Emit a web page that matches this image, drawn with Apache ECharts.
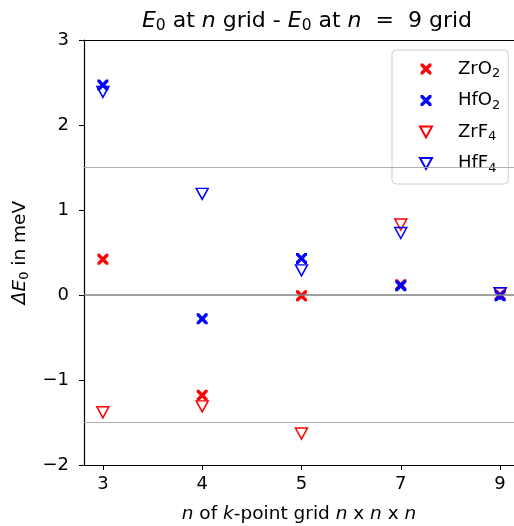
<!DOCTYPE html>
<html><head><meta charset="utf-8">
<script src="https://cdn.jsdelivr.net/npm/echarts@6/dist/echarts.min.js"></script>
<style>html,body{margin:0;padding:0;background:#fff}#c{width:514px;height:526px}</style>
</head><body><div id="c"></div>
<script>
const xLabels = ['3', '4', '5', '7', '9'];
const yTicks = [-2, -1, 0, 1, 2, 3];
const refLines = [1.5, 0, -1.5];
const ZrO2 = [0.42, -1.18, -0.01, 0.12, 0.00];
const HfO2 = [2.47, -0.28, 0.43, 0.11, -0.01];
const ZrF4 = [-1.38, -1.31, -1.63, 0.83, 0.02];
const HfF4 = [2.39, 1.19, 0.29, 0.73, 0.02];

const XPATH = 'path://M0,0 L2.2,0 L5,2.8 L7.8,0 L10,0 L10,2.2 L7.2,5 L10,7.8 L10,10 L7.8,10 L5,7.2 L2.2,10 L0,10 L0,7.8 L2.8,5 L0,2.2 Z';
const TRI = 'path://M0,0 L12,0 L6,11 Z';
const toPts = arr => arr.map((v, i) => [i, v]);
const fmt = v => v < 0 ? '\u2212' + Math.abs(v) : String(v);
const font = 'DejaVu Sans';
const FS = 18;
const NFS = 18.5;
const XMIN = -0.19, XMAX = 4.14;

function crossSeries(name, color, vals) {
  return { name, type: 'scatter', data: toPts(vals), symbol: XPATH, symbolSize: 11,
    itemStyle: { color: color, borderWidth: 0, opacity: 1 }, z: 3 };
}
function triSeries(name, color, vals) {
  return { name, type: 'scatter', data: toPts(vals), symbol: TRI, symbolSize: [12, 11],
    itemStyle: { color: 'rgba(255,255,255,0)', borderColor: color, borderWidth: 1.5, opacity: 1 }, z: 3 };
}

const chart = echarts.init(document.getElementById('c'));
chart.setOption({
  animation: false,
  backgroundColor: '#fff',
  textStyle: { fontFamily: font },
  title: {
    text: '{i|E}{s|0}{t| at }{i|n}{t| grid - }{i|E}{s|0}{t| at }{i|n}{t|  =  9 grid}',
    left: 302, textAlign: 'center', top: 3,
    textStyle: { fontWeight: 'normal', rich: {
      t: { fontFamily: font, fontSize: 22, color: '#000', fontWeight: 'normal' },
      i: { fontFamily: font, fontSize: 22, fontStyle: 'italic', color: '#000', fontWeight: 'normal' },
      s: { fontFamily: font, fontSize: 15.5, color: '#000', fontWeight: 'normal', verticalAlign: 'bottom', padding: [10, 0, 0, 0] }
    } }
  },
  grid: { left: 84, right: 0, top: 40, bottom: 61, containLabel: false, outerBoundsMode: 'none' },
  legend: {
    orient: 'vertical', left: 392, top: 50,
    padding: [10, 8, 9, 27], itemGap: 11, itemWidth: 12, itemHeight: 11,
    backgroundColor: '#fff', borderColor: '#d0d0d0', borderWidth: 1, borderRadius: 4,
    data: [{ name: 'ZrO2' }, { name: 'HfO2' }, { name: 'ZrF4', icon: TRI }, { name: 'HfF4', icon: TRI }],
    formatter: n => '{t|' + n.slice(0, -1) + '}{s|' + n.slice(-1) + '}',
    textStyle: { padding: [0, 0, 0, 21], rich: {
      t: { fontFamily: font, fontSize: FS, color: '#000' },
      s: { fontFamily: font, fontSize: 13, color: '#000', verticalAlign: 'bottom', padding: [10, 0, 0, 0] }
    } }
  },
  xAxis: [{
    type: 'value', min: XMIN, max: XMAX,
    name: '{i|n}{t| of }{i|k}{t|-point grid }{i|n}{t| x }{i|n}{t| x }{i|n}',
    nameLocation: 'middle', nameGap: 40,
    nameTextStyle: { rich: {
      t: { fontFamily: font, fontSize: NFS, color: '#000' },
      i: { fontFamily: font, fontSize: NFS, fontStyle: 'italic', color: '#000' }
    } },
    axisLine: { onZero: false, lineStyle: { color: '#000', width: 1.2 } },
    axisTick: { customValues: [0, 1, 2, 3, 4], length: 5, lineStyle: { color: '#000' } },
    axisLabel: { customValues: [0, 1, 2, 3, 4], formatter: v => xLabels[Math.round(v)], fontSize: FS, color: '#000', margin: 10, fontFamily: font },
    splitLine: { show: false }
  }, {
    type: 'value', position: 'top', min: XMIN, max: XMAX,
    axisLine: { show: true, onZero: false, lineStyle: { color: '#000', width: 1.2 } },
    axisTick: { show: false }, axisLabel: { show: false }, splitLine: { show: false }
  }],
  yAxis: {
    type: 'value', min: -2, max: 3, interval: 1,
    name: '{d|Δ}{i|E}{s|0}{t| in meV}',
    nameLocation: 'middle', nameGap: 52, nameRotate: 90,
    nameTextStyle: { rich: {
      t: { fontFamily: font, fontSize: NFS, color: '#000' },
      d: { fontFamily: font, fontSize: NFS, color: '#000', fontStyle: 'italic' },
      i: { fontFamily: font, fontSize: NFS, fontStyle: 'italic', color: '#000' },
      s: { fontFamily: font, fontSize: 13, color: '#000', verticalAlign: 'bottom', padding: [9, 0, 0, 0] }
    } },
    axisLine: { show: true, onZero: false, lineStyle: { color: '#000', width: 1.2 } },
    axisTick: { show: true, length: 5, lineStyle: { color: '#000' } },
    axisLabel: { formatter: fmt, fontSize: FS, color: '#000', margin: 15, fontFamily: font },
    splitLine: { show: false }
  },
  series: [
    Object.assign(crossSeries('ZrO2', '#ff0000', ZrO2), {
      markLine: { silent: true, symbol: 'none', label: { show: false }, animation: false,
        data: refLines.map(v => ({ yAxis: v, lineStyle: { color: v === 0 ? '#808080' : '#a8a8a8', width: v === 0 ? 1.6 : 0.9, type: 'solid' } })) }
    }),
    crossSeries('HfO2', '#0000ff', HfO2),
    triSeries('ZrF4', '#ff0000', ZrF4),
    triSeries('HfF4', '#0000ff', HfF4)
  ]
});
</script></body></html>
